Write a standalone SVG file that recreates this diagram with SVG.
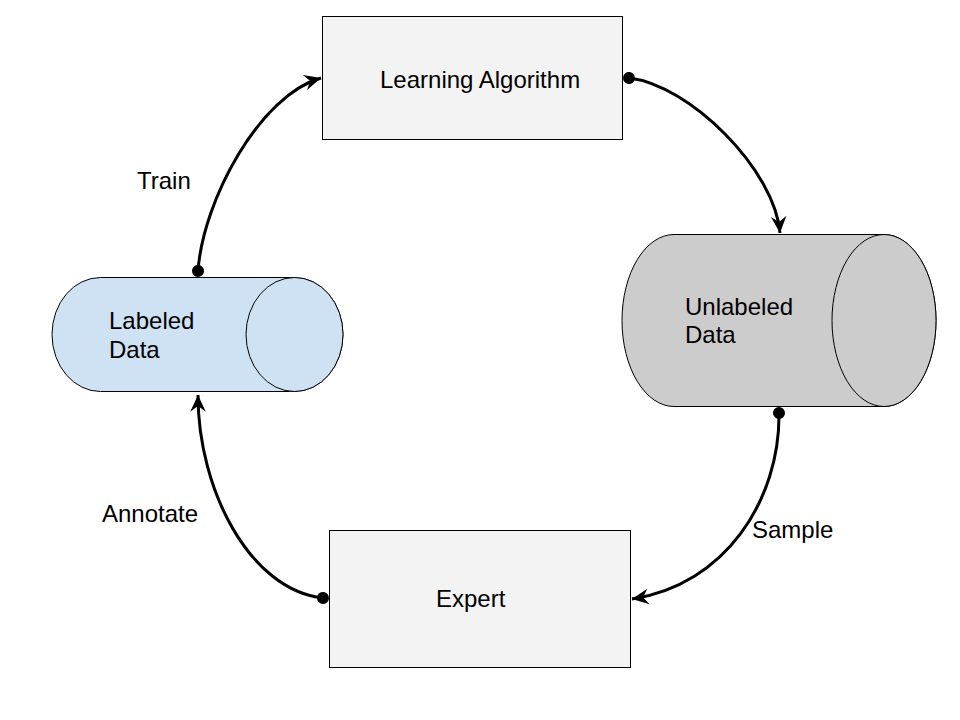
<svg xmlns="http://www.w3.org/2000/svg" width="960" height="720" viewBox="0 0 960 720">
<style>
.box{fill:#f3f3f3;stroke:#000;stroke-width:1}
.cyl{stroke:#000;stroke-width:1}
.t{font-family:"Liberation Sans",Arial,sans-serif;font-size:24px;fill:#000}
.c{fill:none;stroke:#000;stroke-width:3}
</style>
<defs>
<marker id="arr" markerUnits="userSpaceOnUse" markerWidth="20" markerHeight="20" viewBox="-16 -8 18 16" refX="0" refY="0" orient="auto">
<path d="M0,0 L-15,-7 L-10,0 L-15,7 Z" fill="#000"/>
</marker>
<marker id="dot" markerUnits="userSpaceOnUse" markerWidth="14" markerHeight="14" viewBox="-7 -7 14 14" refX="0" refY="0" orient="auto">
<circle cx="0" cy="0" r="6" fill="#000"/>
</marker>
</defs>
<rect width="960" height="720" fill="#fff"/>
<g id="learning-algorithm">
<rect class="box" x="322.5" y="16.5" width="300" height="123"/>
<text class="t" x="380" y="88">Learning Algorithm</text>
</g>
<g id="expert">
<rect class="box" x="329.5" y="530.5" width="301" height="137"/>
<text class="t" x="436" y="607">Expert</text>
</g>
<g id="labeled-data">
<path class="cyl" fill="#cfe2f3" d="M100.5,277.5 L294.5,277.5 A48.5,57 0 0 1 294.5,391.5 L100.5,391.5 A48.5,57 0 0 1 100.5,277.5 Z"/>
<ellipse class="cyl" fill="#cfe2f3" cx="294.5" cy="334.5" rx="48.5" ry="57"/>
<text class="t" x="109" y="329">Labeled</text>
<text class="t" x="109" y="358">Data</text>
</g>
<g id="unlabeled-data">
<path class="cyl" fill="#cccccc" d="M674,234.5 L884,234.5 A52,86 0 0 1 884,406.5 L674,406.5 A52,86 0 0 1 674,234.5 Z"/>
<ellipse class="cyl" fill="#cccccc" cx="884" cy="320.5" rx="52" ry="86"/>
<text class="t" x="685" y="315">Unlabeled</text>
<text class="t" x="685" y="343">Data</text>
</g>
<g id="connectors">
<path class="c" marker-start="url(#dot)" marker-end="url(#arr)" d="M198,271 C203,200 260,95 321,78"/>
<path class="c" marker-start="url(#dot)" marker-end="url(#arr)" d="M629,78 C690,85 775,170 780,233"/>
<path class="c" marker-start="url(#dot)" marker-end="url(#arr)" d="M779,413 C780,500 725,585 632,599"/>
<path class="c" marker-start="url(#dot)" marker-end="url(#arr)" d="M323,598 C250,590 198,490 198,395"/>
<text class="t" x="137" y="189">Train</text>
<text class="t" x="102" y="522">Annotate</text>
<text class="t" x="752" y="538">Sample</text>
</g>
</svg>
